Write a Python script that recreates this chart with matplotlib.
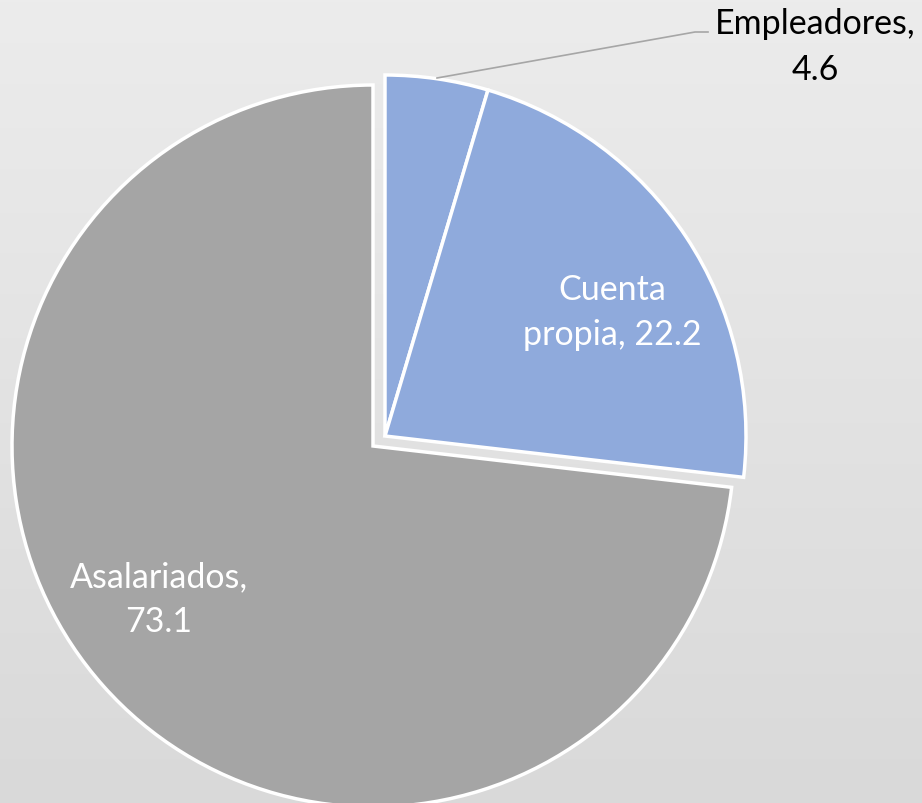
import matplotlib
matplotlib.use('Agg')
import matplotlib.pyplot as plt
import numpy as np

# datos
categorias = ['Empleadores', 'Cuenta propia', 'Asalariados']
valores = [4.6, 22.2, 73.1]
colores = ['#8faadc', '#8faadc', '#a5a5a5']

plt.rcParams['font.family'] = ['Lato', 'DejaVu Sans']

W, H = 922, 804
fig = plt.figure(figsize=(W / 100, H / 100), dpi=100)
ax = fig.add_axes([0, 0, 1, 1])

# fondo degradado vertical
grad = np.linspace(217, 236, 256).reshape(-1, 1) / 255.0
grad = np.dstack([grad, grad, grad])
ax.imshow(grad, extent=[0, W, 0, H], origin='lower', aspect='auto', zorder=0)

wedges, _ = ax.pie(valores, colors=colores, startangle=90, counterclock=False,
                   radius=361, center=(373, 357),
                   wedgeprops=dict(edgecolor='white', linewidth=2.5))
for w in wedges:
    w.set_zorder(2)
# las dos porciones azules desplazadas juntas
for w in wedges[:2]:
    w.set_center((385, 367))

# etiquetas
ax.plot([437, 695, 708], [725, 771, 771], color='#a6a6a6', linewidth=1.2, zorder=3)
ax.text(815, 757, f'{categorias[0]},\n{valores[0]}', ha='center', va='center',
        fontsize=24.5, color='black', linespacing=1.5, zorder=4)
ax.text(612, 491, 'Cuenta\npropia, ' + str(valores[1]), ha='center', va='center',
        fontsize=24.5, color='white', linespacing=1.5, zorder=4)
ax.text(159, 204, f'{categorias[2]},\n{valores[2]}', ha='center', va='center',
        fontsize=24.5, color='white', linespacing=1.5, zorder=4)

ax.set_xlim(0, W)
ax.set_ylim(0, H)
ax.set_aspect('auto')
ax.axis('off')

fig.savefig('out.png', dpi=100)
